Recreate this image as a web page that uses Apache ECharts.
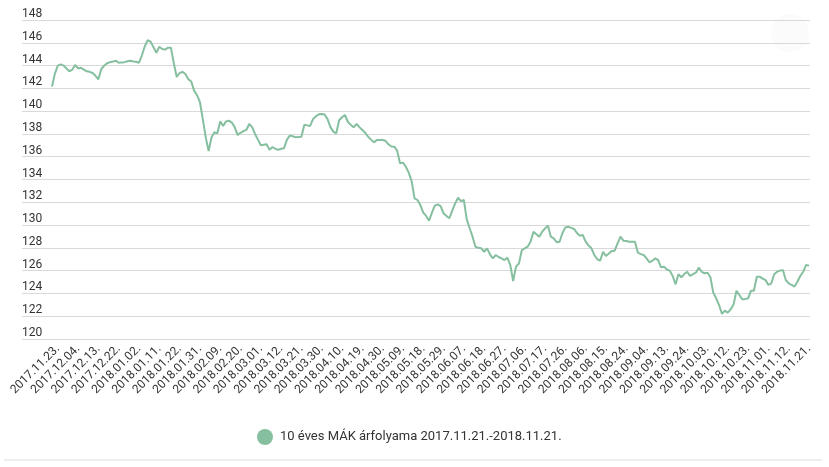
<!DOCTYPE html>
<html>
<head>
<meta charset="utf-8">
<script src="https://cdn.jsdelivr.net/npm/echarts@6/dist/echarts.min.js"></script>
<style>
html,body{margin:0;padding:0;background:#fff;}
#chart{width:829px;height:467px;}
</style>
</head>
<body>
<div id="chart"></div>
<script>
const seriesName = '10 éves MÁK árfolyama 2017.11.21.-2018.11.21.';

const tickLabels = [
  '2017.11.23.','2017.12.04.','2017.12.13.','2017.12.22.','2018.01.02.','2018.01.11.',
  '2018.01.22.','2018.01.31.','2018.02.09.','2018.02.20.','2018.03.01.','2018.03.12.',
  '2018.03.21.','2018.03.30.','2018.04.10.','2018.04.19.','2018.04.30.','2018.05.09.',
  '2018.05.18.','2018.05.29.','2018.06.07.','2018.06.18.','2018.06.27.','2018.07.06.',
  '2018.07.17.','2018.07.26.','2018.08.06.','2018.08.15.','2018.08.24.','2018.09.04.',
  '2018.09.13.','2018.09.24.','2018.10.03.','2018.10.12.','2018.10.23.','2018.11.01.',
  '2018.11.12.','2018.11.21.'
];
const firstTickIndex = 2;
const tickStep = 7;

const values = [
  142.15,143.3,144.0,144.1,144.0,143.75,143.5,143.65,144.05,143.75,
  143.8,143.65,143.5,143.45,143.35,143.1,142.8,143.7,144.0,144.2,
  144.3,144.35,144.43,144.25,144.28,144.3,144.38,144.43,144.36,144.34,
  144.25,144.9,145.7,146.24,146.1,145.6,145.13,145.66,145.45,145.4,
  145.57,145.57,144.2,143.0,143.35,143.45,143.26,142.8,142.6,141.8,
  141.4,140.8,139.3,137.7,136.5,137.7,138.15,138.05,139.1,138.7,
  139.1,139.16,139.0,138.6,137.9,138.1,138.25,138.35,138.87,138.6,
  138.0,137.5,137.0,137.05,137.1,136.6,136.85,136.7,136.6,136.7,
  136.74,137.5,137.85,137.8,137.7,137.72,137.76,138.8,138.75,138.7,
  139.3,139.55,139.72,139.75,139.7,139.3,138.6,138.2,138.05,139.2,
  139.46,139.66,139.07,138.8,138.58,138.87,138.6,138.35,138.1,137.75,
  137.5,137.26,137.47,137.47,137.47,137.4,137.09,136.9,136.88,136.53,
  135.42,135.48,135.12,134.6,133.85,132.35,132.2,131.76,131.09,130.8,
  130.38,131.09,131.7,131.82,131.67,131.03,130.8,130.6,131.26,131.9,
  132.4,132.1,132.2,130.5,129.72,128.98,128.1,128.0,127.96,127.66,
  127.96,127.43,127.08,127.37,127.2,127.08,126.93,127.14,126.5,125.09,
  126.35,126.64,127.81,127.95,128.1,128.54,129.42,129.2,128.98,129.42,
  129.7,129.95,128.98,128.84,128.49,128.54,129.3,129.8,129.86,129.75,
  129.66,129.3,129.07,129.13,128.54,128.2,127.96,127.37,127.0,126.87,
  127.66,127.29,127.5,127.72,127.75,128.4,128.98,128.63,128.6,128.54,
  128.54,128.54,127.58,127.45,127.37,127.08,126.73,126.87,127.08,126.93,
  126.29,126.35,126.1,126.0,125.53,124.8,125.68,125.42,125.7,125.9,
  125.53,125.7,125.82,126.26,125.9,125.77,125.82,125.42,124.07,123.57,
  122.98,122.2,122.49,122.31,122.6,123.04,124.24,123.86,123.48,123.5,
  123.57,124.24,124.24,125.47,125.47,125.3,125.18,124.74,124.89,125.68,
  125.9,126.0,126.06,125.18,124.89,124.74,124.6,125.03,125.53,125.9,
  126.5,126.44
];

const categories = values.map((_, i) => String(i));

const yMin = 120, yMax = 148, yStep = 2;
const lineColor = '#86bf9f';

const chart = echarts.init(document.getElementById('chart'), null, {renderer: 'canvas'});
const gridTop = 20, gridBottom = 128;

chart.setOption({
  animation: false,
  backgroundColor: '#fff',
  textStyle: {fontFamily: 'Roboto'},
  grid: [
    {left: 22, right: 19, top: gridTop, bottom: gridBottom, containLabel: false},
    {left: 52, right: 20, top: gridTop, bottom: gridBottom, containLabel: false}
  ],
  legend: {
    data: [seriesName],
    left: 252,
    top: 424,
    icon: 'circle',
    itemWidth: 16,
    itemHeight: 16,
    selectedMode: false,
    textStyle: {fontFamily: 'Roboto', fontSize: 13, color: '#333', padding: [0, 0, 0, 2]}
  },
  xAxis: [
    {
      gridIndex: 0, type: 'value', min: 0, max: 1, show: false
    },
    {
      gridIndex: 1,
      type: 'category',
      data: categories,
      boundaryGap: false,
      axisLine: {show: false},
      axisTick: {show: false},
      splitLine: {show: false},
      axisLabel: {
        rotate: 45,
        margin: 8,
        fontSize: 12,
        color: '#333',
        fontFamily: 'Roboto',
        interval: (idx) => (idx - firstTickIndex) >= 0 && (idx - firstTickIndex) % tickStep === 0,
        formatter: (val, idx) => tickLabels[(idx - firstTickIndex) / tickStep] || ''
      }
    }
  ],
  yAxis: [
    {
      gridIndex: 0,
      type: 'value',
      min: yMin, max: yMax, interval: yStep,
      axisLine: {show: false},
      axisTick: {show: false},
      splitLine: {show: true, lineStyle: {color: '#d9d9d9', width: 1}},
      axisLabel: {
        inside: true,
        margin: 0,
        align: 'left',
        verticalAlign: 'bottom',
        padding: [0, 0, 0, 0],
        fontSize: 12,
        color: '#333',
        fontFamily: 'Roboto'
      }
    },
    {
      gridIndex: 1,
      type: 'value',
      min: yMin, max: yMax, interval: yStep,
      show: false
    }
  ],
  series: [
    {
      name: seriesName,
      type: 'line',
      xAxisIndex: 1,
      yAxisIndex: 1,
      data: values,
      showSymbol: false,
      symbol: 'circle',
      smooth: false,
      lineStyle: {color: lineColor, width: 2},
      itemStyle: {color: lineColor}
    }
  ],
  graphic: [
    {type: 'circle', shape: {cx: 790, cy: 33, r: 19}, style: {fill: '#fbfbfb'}, z: -1},
    {type: 'line', shape: {x1: 4, y1: 460, x2: 822, y2: 460}, style: {stroke: '#dedede', lineWidth: 1}}
  ]
});
</script>
</body>
</html>
